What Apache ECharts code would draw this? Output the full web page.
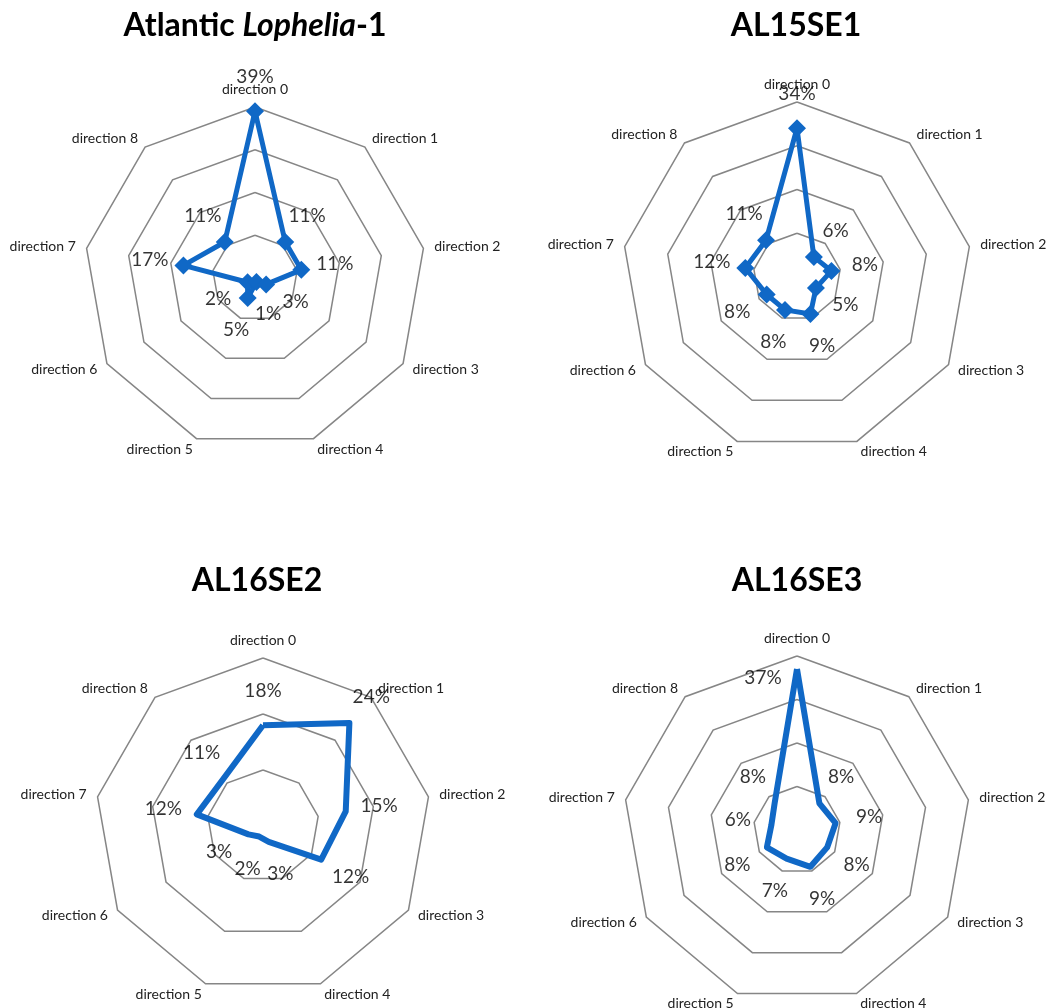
<!DOCTYPE html>
<html><head><meta charset="utf-8">
<script src="https://cdn.jsdelivr.net/npm/echarts@6/dist/echarts.min.js"></script>
<style>html,body{margin:0;padding:0;background:#fff}#c{width:1049px;height:1008px}</style>
</head><body><div id="c"></div>
<script>
// ---- data ----
const directions = ['direction 0','direction 1','direction 2','direction 3','direction 4','direction 5','direction 6','direction 7','direction 8'];
const titles = ['Atlantic Lophelia-1','AL15SE1','AL16SE2','AL16SE3'];
const lophelia1 = [39, 11, 11, 3, 1, 5, 2, 17, 11];
const al15se1   = [34, 6, 8, 5, 9, 8, 8, 12, 11];
const al16se2   = [18, 24, 15, 12, 3, 2, 3, 12, 11];
const al16se3   = [37, 8, 9, 8, 9, 7, 8, 6, 8];
const axisMax   = [40, 40, 30, 40];
const ringCount = [4, 4, 3, 4];

// ---- layout / style ----
const seriesValues = [lophelia1, al15se1, al16se2, al16se3];
const panels = [
  {center:[255,278], radius:171, titleX:255, titleTop:5, marker:true},
  {center:[797,277], radius:175, titleX:796, titleTop:5, marker:true},
  {center:[263,826], radius:168, titleX:257, titleTop:560, marker:false},
  {center:[797,830], radius:174, titleX:797, titleTop:560, marker:false}
];
const labelOverride = {'3-0':[-34, 9]};
const lineColor = '#1068C6';
const font = 'Lato';
const labelDist = 34;

// clockwise order for radar (ECharts radar runs counter-clockwise)
const order = [0].concat(directions.map((d,i)=>i).slice(1).reverse());

const option = {
  backgroundColor:'#fff',
  animation:false,
  title: titles.map((t,k)=>({
    text: k===0 ? '{n|Atlantic }{i|Lophelia}{n|-1}' : t,
    left: panels[k].titleX - 5, top: panels[k].titleTop, textAlign:'center',
    textStyle:{fontFamily:font, fontWeight:'bold', fontSize:32, color:'#000',
      rich:{n:{fontFamily:font, fontWeight:'bold', fontSize:32, color:'#000'},
            i:{fontFamily:font, fontWeight:'bold', fontStyle:'italic', fontSize:32, color:'#000'}}}
  })),
  radar: panels.map((p,k)=>({
    center:p.center, radius:p.radius, startAngle:90, shape:'polygon', splitNumber:ringCount[k],
    indicator: order.map(i=>({name:directions[i], min:0, max:axisMax[k]})),
    axisName:{color:'#222', fontSize:14, fontFamily:font},
    nameGap:11,
    axisLine:{show:false}, axisTick:{show:false}, axisLabel:{show:false},
    splitLine:{lineStyle:{color:'#868686', width:1.5}},
    splitArea:{show:false}
  })),
  polar: panels.map(p=>({center:p.center, radius:p.radius})),
  angleAxis: panels.map((p,k)=>({polarIndex:k, type:'category', data:directions, startAngle:90, clockwise:true, boundaryGap:false, show:false})),
  radiusAxis: panels.map((p,k)=>({polarIndex:k, min:0, max:axisMax[k], show:false})),
  series: []
};

seriesValues.forEach((vals,k)=>{
  const p = panels[k];
  option.series.push({
    type:'radar', radarIndex:k, silent:true, z:3,
    symbol: p.marker ? 'diamond' : 'none', symbolSize: 18,
    lineStyle:{color:lineColor, width: p.marker ? 5 : 6},
    itemStyle:{color:lineColor},
    label:{show:false},
    data:[{value: order.map(i=>vals[i])}]
  });
  option.series.push({
    type:'scatter', coordinateSystem:'polar', polarIndex:k, silent:true, z:5,
    symbolSize:1, itemStyle:{color:'rgba(0,0,0,0)'},
    label:{show:true, position:'inside', color:'#000', fontFamily:font, fontSize:19,
      formatter: prm => prm.value[0] + '%'},
    data: vals.map((v,i)=>{
      const a = i*2*Math.PI/directions.length;
      const off = labelOverride[k+'-'+i] || [labelDist*Math.sin(a), -labelDist*Math.cos(a)];
      return {value:[v, i], label:{offset:off}};
    })
  });
});

const chart = echarts.init(document.getElementById('c'));
chart.setOption(option);
</script></body></html>
